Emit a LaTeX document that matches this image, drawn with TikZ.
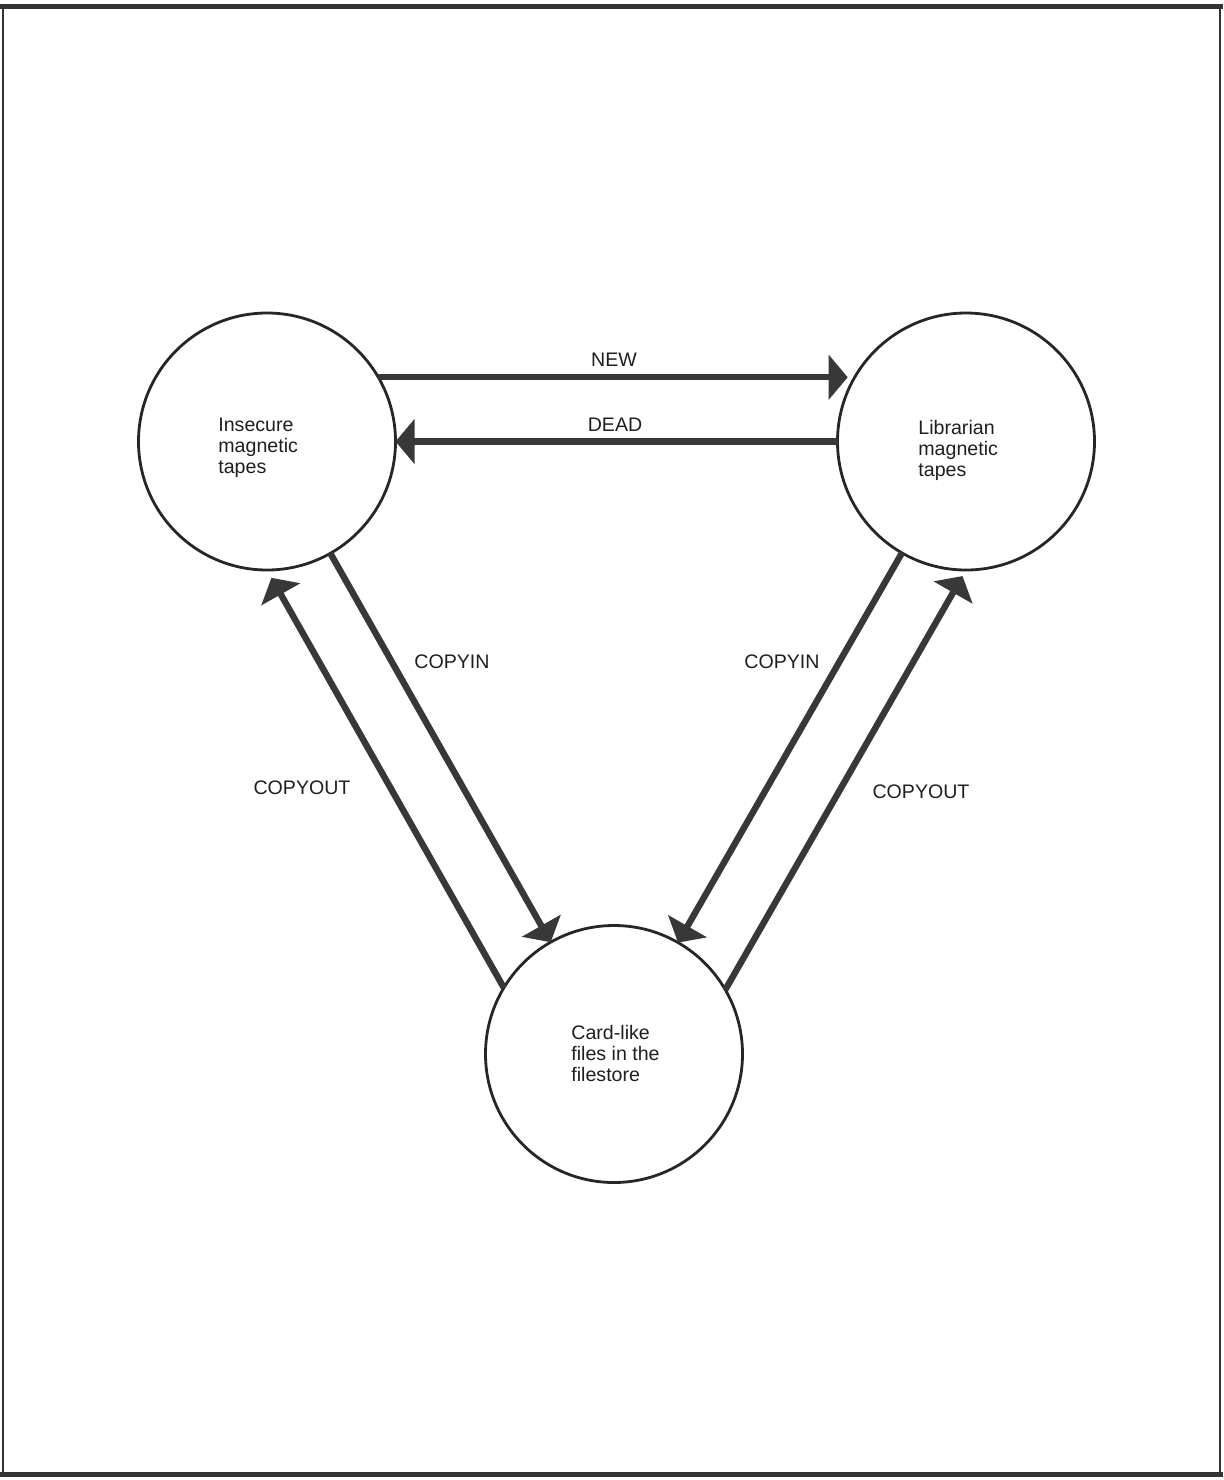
\documentclass[tikz,border=0pt]{standalone}
\usepackage{fontspec}
\setmainfont{Liberation Sans}
\usetikzlibrary{arrows.meta}
\begin{document}
\begin{tikzpicture}[x=0.5pt,y=-0.5pt,
  tape/.style={circle,draw=black!85,line width=1.4pt,minimum size=128.5pt,inner sep=0pt,outer sep=0pt},
  flow/.style={draw=black!78,line width=3.2pt,-{Triangle[width=22pt,length=9.5pt]}},
  lbl/.style={font=\fontsize{9.8}{10.5}\selectfont,text=black!88,inner sep=0pt},
  intext/.style={lbl,align=left,anchor=north west},
  frameline/.style={draw=black!80}]
\useasboundingbox (0,0) rectangle (1223,1480);
\fill[white] (0,0) rectangle (1223,1480);
% frame
\draw[frameline,line width=2.5pt] (0,6) -- (1223,6);
\draw[frameline,line width=2.5pt] (0,1474) -- (1223,1474);
\draw[frameline,line width=1pt] (3,6) -- (3,1474);
\draw[frameline,line width=1pt] (1220,6) -- (1220,1474);
% circles
\node[tape] (L) at (267,441.5) {};
\node[tape] (R) at (966,441.5) {};
\node[tape] (B) at (614,1054) {};
\node[intext] (Lt) at (218,418) {Insecure\\magnetic\\tapes};
\node[intext] (Rt) at (918,420) {Librarian\\magnetic\\tapes};
\node[intext] (Bt) at (571,1025) {Card-like\\files in the\\filestore};
% connectors
\draw[flow,shorten >=3.5pt] (L.30) -- (R.150);
\draw[flow] (R) -- (L);
\draw[flow] (L) -- (B);
\draw[flow,shorten >=4.5pt] (B.149.5) -- (L.-90.5);
\draw[flow] (R) -- (B);
\draw[flow,shorten >=3.5pt] (B.30) -- (R.-90);
% labels
\node[lbl] (new) at (614,360) {NEW};
\node[lbl] (dead) at (615,425) {DEAD};
\node[lbl] (cinL) at (452,662) {COPYIN};
\node[lbl] (cinR) at (782,662) {COPYIN};
\node[lbl] (coutL) at (302,788) {COPYOUT};
\node[lbl] (coutR) at (921,792) {COPYOUT};
\end{tikzpicture}
\end{document}
